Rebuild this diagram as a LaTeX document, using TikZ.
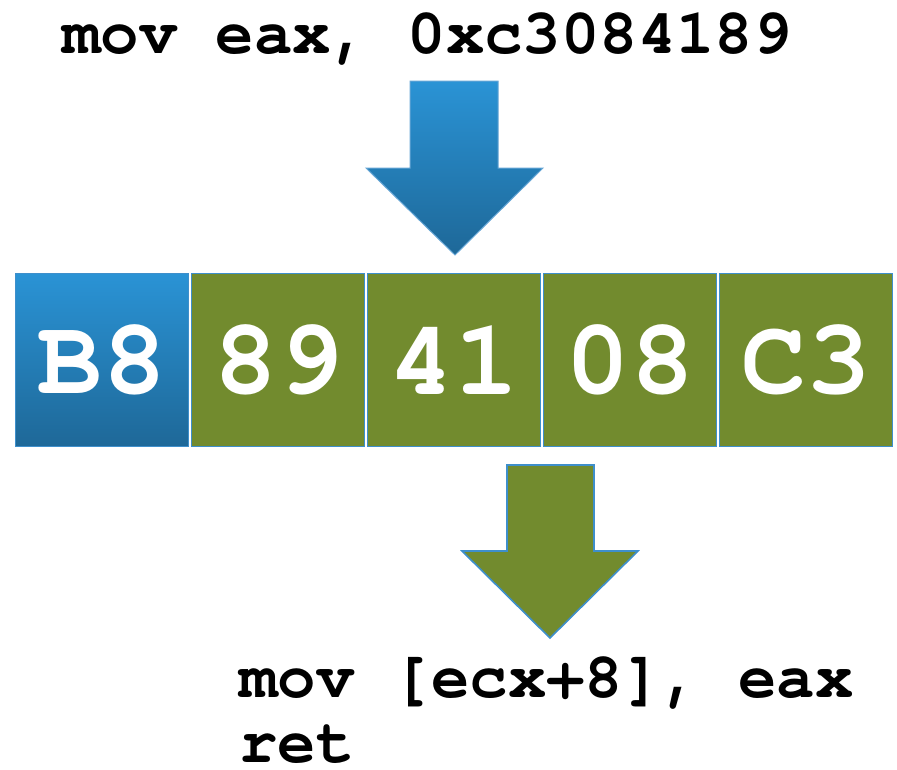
\documentclass[tikz,border=0pt]{standalone}
\usepackage{fontspec}
\setmonofont{TeX Gyre Cursor}
\usetikzlibrary{positioning}
\definecolor{byteblueT}{HTML}{2A93D5}
\definecolor{byteblueB}{HTML}{1E6898}
\definecolor{bytegreen}{HTML}{728B2E}
\definecolor{edgeblue}{HTML}{3E8FCB}
\begin{document}
\begin{tikzpicture}[x=1pt,y=-1pt,
  bytebox/.style={draw=edgeblue,line width=1.4pt,minimum width=173pt,minimum height=173pt,
    inner sep=0pt,text=white,font=\ttfamily\bfseries\fontsize{108}{110}\selectfont},
  greenbyte/.style={bytebox,fill=bytegreen},
  bluebyte/.style={bytebox,top color=byteblueT,bottom color=byteblueB},
  codeline/.style={anchor=base west,inner sep=0pt,font=\ttfamily\bfseries\fontsize{64}{70}\selectfont}]
\useasboundingbox (0,0) rectangle (897,769);
\fill[white] (0,0) rectangle (897,769);

% source instruction
\node[codeline] (src) at (62,53) {mov eax, 0xc3084189};

% arrow pointing into the byte sequence
\draw[draw=edgeblue!80!white,line width=1pt,top color=byteblueT,bottom color=byteblueB]
  (410,81) -- (498,81) -- (498,168) -- (543,168) -- (455,255) -- (366,168) -- (410,168) -- cycle;

% encoded bytes
\node[bluebyte]  (b1) at (102,360) {B8};
\node[greenbyte] (b2) at (278,360) {89};
\node[greenbyte] (b3) at (454,360) {41};
\node[greenbyte] (b4) at (630,360) {08};
\node[greenbyte] (b5) at (806,360) {C3};

% arrow out of the misaligned decoding
\draw[draw=edgeblue,line width=1.6pt,fill=bytegreen]
  (507,465) -- (594,465) -- (594,551) -- (638,551) -- (550,638) -- (462,551) -- (507,551) -- cycle;

% decoded instructions
\node[codeline] (dst1) at (239,697) {mov [ecx+8], eax};
\node[codeline] (dst2) at (239,762) {ret};
\end{tikzpicture}
\end{document}
